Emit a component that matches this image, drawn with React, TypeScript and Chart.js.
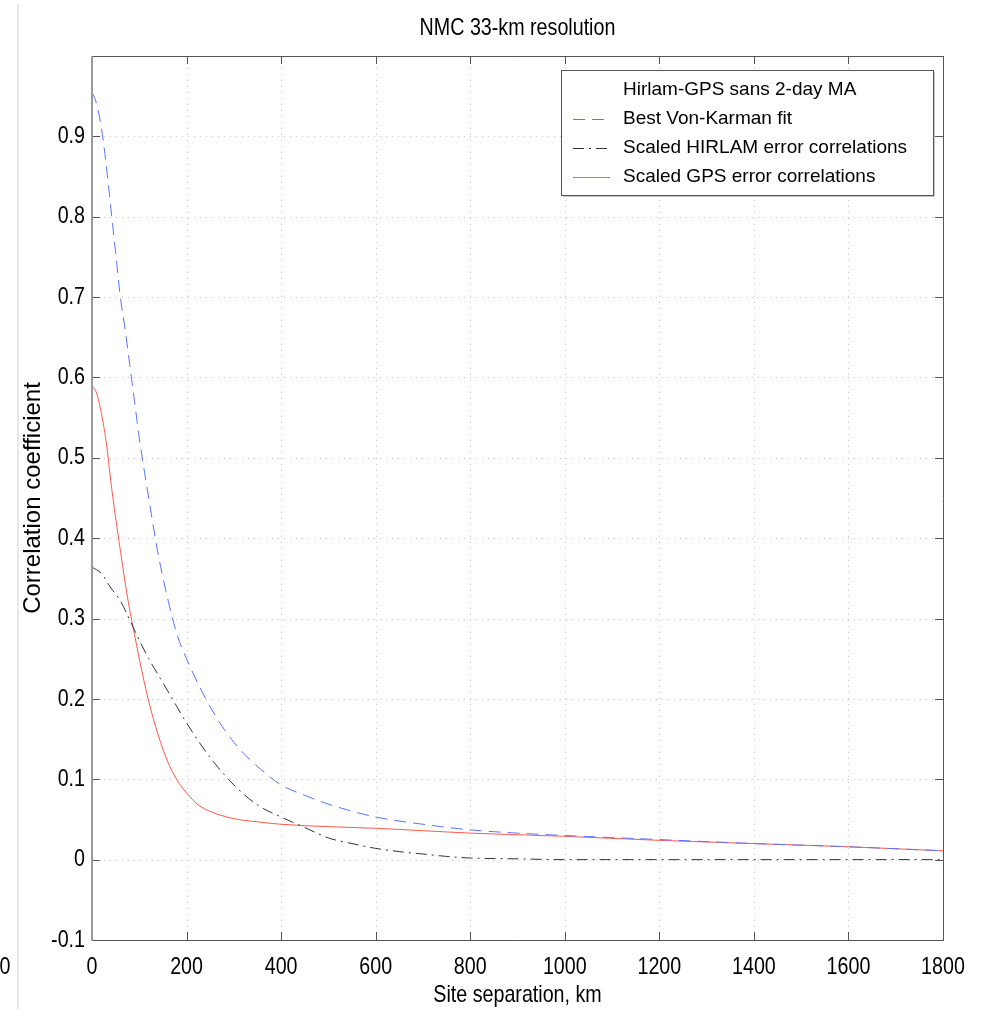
import React, { useEffect, useRef } from 'react';
import { Chart, registerables } from 'chart.js';

Chart.register(...registerables);

const TITLE = 'NMC 33-km resolution';
const X_TITLE = 'Site separation, km';
const Y_TITLE = 'Correlation coefficient';
const LEGEND_HEADER = 'Hirlam-GPS sans 2-day MA';
const SERIES_LABELS = ['Best Von-Karman fit', 'Scaled HIRLAM error correlations', 'Scaled GPS error correlations'];

const X_TICKS = [0, 200, 400, 600, 800, 1000, 1200, 1400, 1600, 1800];
const Y_TICKS = [-0.1, 0, 0.1, 0.2, 0.3, 0.4, 0.5, 0.6, 0.7, 0.8, 0.9];
const X_TICK_LABELS = ['0', '200', '400', '600', '800', '1000', '1200', '1400', '1600', '1800'];
const Y_TICK_LABELS = ['-0.1', '0', '0.1', '0.2', '0.3', '0.4', '0.5', '0.6', '0.7', '0.8', '0.9'];

const VK_X = [0, 10, 20, 30, 40, 50, 60, 70, 80, 90, 100, 120, 140, 160, 180, 200, 250, 300, 350, 400, 450, 500, 600, 700, 800, 900, 1000, 1200, 1400, 1600, 1800];
const VK_Y = [0.955, 0.94, 0.91, 0.865, 0.81, 0.755, 0.7, 0.66, 0.615, 0.57, 0.525, 0.45, 0.38, 0.325, 0.28, 0.25, 0.19, 0.146, 0.116, 0.093, 0.08, 0.069, 0.053, 0.044, 0.037, 0.033, 0.03, 0.025, 0.02, 0.016, 0.011];

const HIR_X = [0, 20, 40, 60, 80, 100, 120, 140, 160, 180, 200, 250, 300, 350, 400, 450, 500, 550, 600, 650, 700, 750, 800, 900, 1000, 1200, 1400, 1600, 1800];
const HIR_Y = [0.364, 0.356, 0.338, 0.322, 0.298, 0.273, 0.25, 0.23, 0.21, 0.19, 0.17, 0.127, 0.093, 0.068, 0.053, 0.04, 0.027, 0.02, 0.014, 0.01, 0.007, 0.004, 0.002, 0.001, 0, 0, 0, 0, 0];

const GPS_X = [0, 10, 20, 30, 40, 50, 60, 70, 80, 90, 100, 120, 140, 160, 180, 200, 225, 250, 300, 350, 400, 500, 600, 700, 800, 900, 1000, 1200, 1400, 1600, 1800];
const GPS_Y = [0.59, 0.58, 0.555, 0.52, 0.47, 0.425, 0.385, 0.345, 0.31, 0.28, 0.25, 0.197, 0.155, 0.122, 0.099, 0.083, 0.068, 0.06, 0.051, 0.047, 0.044, 0.041, 0.039, 0.036, 0.033, 0.031, 0.029, 0.024, 0.02, 0.016, 0.011];

const REG = '"Liberation Sans", Arial, sans-serif';
const SQUEEZE = 0.82;

const BLUE = '#5a74ff';
const BLACK = '#333333';
const RED = '#ff5a4a';

const toPts = (xs: number[], ys: number[]) => xs.map((x, i) => ({ x, y: ys[i] }));

function narrowText(ctx: CanvasRenderingContext2D, text: string, x: number, y: number, align: CanvasTextAlign, size = 24) {
  ctx.save();
  ctx.translate(x, y);
  ctx.scale(SQUEEZE, 1);
  ctx.font = `${size}px ${REG}`;
  ctx.fillStyle = '#000';
  ctx.textAlign = align;
  ctx.textBaseline = 'middle';
  ctx.fillText(text, 0, 0);
  ctx.restore();
}

const decorPlugin = {
  id: 'decor',
  beforeDraw(chart: any) {
    const ctx = chart.ctx;
    ctx.save();
    ctx.fillStyle = '#ffffff';
    ctx.fillRect(0, 0, chart.width, chart.height);
    ctx.strokeStyle = '#e2e2e2';
    ctx.lineWidth = 1.5;
    ctx.beginPath();
    ctx.moveTo(18, 4);
    ctx.lineTo(18, chart.height);
    ctx.stroke();
    ctx.restore();
    narrowText(ctx, '0', 5, 967, 'center');
  },
  beforeDatasetsDraw(chart: any) {
    const { ctx, chartArea } = chart;
    const { left, right, top, bottom } = chartArea;
    const xs = chart.scales.x;
    const ys = chart.scales.y;
    ctx.save();
    ctx.strokeStyle = '#cccccc';
    ctx.lineWidth = 1;
    ctx.setLineDash([1, 5]);
    X_TICKS.forEach((v) => {
      const p = Math.round(xs.getPixelForValue(v)) + 0.5;
      if (p > left + 2 && p < right - 2) {
        ctx.beginPath();
        ctx.moveTo(p, top);
        ctx.lineTo(p, bottom);
        ctx.stroke();
      }
    });
    Y_TICKS.forEach((v) => {
      const p = Math.round(ys.getPixelForValue(v)) + 0.5;
      if (p > top + 2 && p < bottom - 2) {
        ctx.beginPath();
        ctx.moveTo(left, p);
        ctx.lineTo(right, p);
        ctx.stroke();
      }
    });
    ctx.restore();
  },
  afterDraw(chart: any) {
    const { ctx, chartArea } = chart;
    const { left, right, top, bottom } = chartArea;
    const xs = chart.scales.x;
    const ys = chart.scales.y;
    ctx.save();
    // inside tick marks
    ctx.strokeStyle = '#555';
    ctx.lineWidth = 1;
    ctx.setLineDash([]);
    const TL = 8;
    X_TICKS.forEach((v) => {
      const p = Math.round(xs.getPixelForValue(v)) + 0.5;
      ctx.beginPath();
      ctx.moveTo(p, bottom);
      ctx.lineTo(p, bottom - TL);
      ctx.moveTo(p, top);
      ctx.lineTo(p, top + TL);
      ctx.stroke();
    });
    Y_TICKS.forEach((v) => {
      const p = Math.round(ys.getPixelForValue(v)) + 0.5;
      ctx.beginPath();
      ctx.moveTo(left, p);
      ctx.lineTo(left + TL, p);
      ctx.moveTo(right, p);
      ctx.lineTo(right - TL, p);
      ctx.stroke();
    });
    // frame
    ctx.strokeStyle = '#555';
    ctx.beginPath();
    ctx.moveTo(left, top + 0.5);
    ctx.lineTo(right + 0.5, top + 0.5);
    ctx.lineTo(right + 0.5, bottom + 0.5);
    ctx.lineTo(left, bottom + 0.5);
    ctx.stroke();
    ctx.strokeStyle = '#9a9a9a';
    ctx.lineWidth = 2;
    ctx.beginPath();
    ctx.moveTo(left, top);
    ctx.lineTo(left, bottom + 1);
    ctx.stroke();
    ctx.restore();

    // tick labels
    X_TICKS.forEach((v, i) => narrowText(ctx, X_TICK_LABELS[i], xs.getPixelForValue(v), 967, 'center'));
    Y_TICKS.forEach((v, i) => narrowText(ctx, Y_TICK_LABELS[i], left - 7, ys.getPixelForValue(v), 'right'));

    // titles
    narrowText(ctx, TITLE, (left + right) / 2, 28, 'center');
    narrowText(ctx, X_TITLE, (left + right) / 2, 995, 'center');

    // legend
    ctx.save();
    const bx = 561, by = 70, bw = 372, bh = 125;
    ctx.fillStyle = '#ffffff';
    ctx.fillRect(bx, by, bw, bh);
    ctx.strokeStyle = '#c8c8c8';
    ctx.lineWidth = 1;
    ctx.beginPath();
    ctx.moveTo(bx + bw + 1.5, by + 2);
    ctx.lineTo(bx + bw + 1.5, by + bh + 1.5);
    ctx.lineTo(bx + 2, by + bh + 1.5);
    ctx.stroke();
    ctx.strokeStyle = '#555';
    ctx.strokeRect(bx + 0.5, by + 0.5, bw, bh);
    const rows = [90, 119, 148, 177];
    ctx.font = `19px ${REG}`;
    ctx.textAlign = 'left';
    ctx.textBaseline = 'middle';
    chart.data.datasets.forEach((ds: any, i: number) => {
      const yy = rows[i];
      ctx.fillStyle = '#000';
      ctx.fillText(ds.label, 623, yy);
      if (ds.borderColor && ds.borderColor !== 'rgba(0,0,0,0)') {
        ctx.strokeStyle = ds.borderColor;
        ctx.lineWidth = 1;
        ctx.setLineDash(ds.borderDash || []);
        ctx.beginPath();
        ctx.moveTo(573, yy + 0.5);
        ctx.lineTo(610, yy + 0.5);
        ctx.stroke();
        ctx.setLineDash([]);
      }
    });
    ctx.restore();
  },
};

export default function App() {
  const ref = useRef<HTMLCanvasElement | null>(null);
  useEffect(() => {
    if (!ref.current) return;
    const chart = new Chart(ref.current, {
      type: 'line',
      data: {
        datasets: [
          { label: LEGEND_HEADER, data: [], borderColor: 'rgba(0,0,0,0)', pointRadius: 0 },
          {
            label: SERIES_LABELS[0],
            data: toPts(VK_X, VK_Y),
            borderColor: BLUE,
            borderWidth: 1,
            borderDash: [12, 7],
            pointRadius: 0,
            cubicInterpolationMode: 'monotone',
          },
          {
            label: SERIES_LABELS[1],
            data: toPts(HIR_X, HIR_Y),
            borderColor: BLACK,
            borderWidth: 1,
            borderDash: [11, 5, 2, 5],
            pointRadius: 0,
            cubicInterpolationMode: 'monotone',
          },
          {
            label: SERIES_LABELS[2],
            data: toPts(GPS_X, GPS_Y),
            borderColor: RED,
            borderWidth: 1,
            pointRadius: 0,
            cubicInterpolationMode: 'monotone',
          },
        ],
      } as any,
      options: {
        responsive: false,
        animation: false,
        devicePixelRatio: 1,
        layout: { padding: { left: 0, right: 42, top: 56, bottom: 0 } },
        plugins: { legend: { display: false }, title: { display: false }, tooltip: { enabled: false } },
        scales: {
          x: {
            type: 'linear',
            min: 0,
            max: 1800,
            afterBuildTicks: (s: any) => { s.ticks = X_TICKS.map((v) => ({ value: v })); },
            afterFit: (s: any) => { s.height = 69; },
            grid: { display: false, drawTicks: false },
            border: { display: false },
            ticks: { display: false },
            title: { display: false, text: X_TITLE },
          },
          y: {
            type: 'linear',
            min: -0.1,
            max: 1.0,
            afterBuildTicks: (s: any) => { s.ticks = Y_TICKS.map((v) => ({ value: v })); },
            afterFit: (s: any) => { s.width = 92; },
            grid: { display: false, drawTicks: false },
            border: { display: false },
            ticks: { display: false },
            title: { display: true, text: Y_TITLE, color: '#000', font: { family: REG, size: 24, lineHeight: 1.2 }, padding: { top: 19, bottom: 0 } },
          },
        },
      } as any,
      plugins: [decorPlugin],
    });
    return () => chart.destroy();
  }, []);
  return (
    <canvas
      ref={ref}
      width={985}
      height={1009}
      style={{ position: 'absolute', left: 0, top: 0, width: 985, height: 1009, display: 'block' }}
    />
  );
}
